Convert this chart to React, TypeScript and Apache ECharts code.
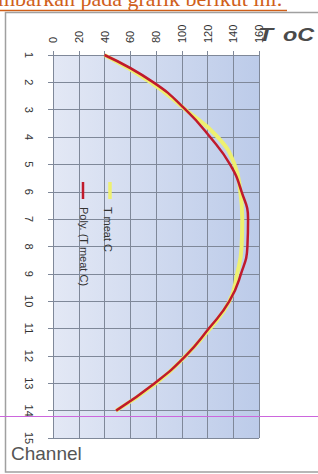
import React, { useEffect, useRef } from "react";
import * as echarts from "echarts";

const channels = [1, 2, 3, 4, 5, 6, 7, 8, 9, 10, 11, 12, 13, 14];
const tMeat = [40, 76, 103, 128, 141, 145.5, 147, 146.5, 143, 137, 122, 103, 80, 49];
const polyFit = [40, 78, 103, 122, 137.5, 146.5, 151.5, 151, 146, 137, 121, 103, 79, 49];
const seriesNames = ["T meat C", "Poly. (T meat C)"];
const headerText = "mbarkan pada grafik berikut ini:";
const xTitleMain = "T";
const xTitleUnit = "oC";
const yTitle = "Channel";

const GRID = "#7f8899";
const LABEL = "#333333";
const SANS = "Liberation Sans, Arial, sans-serif";

export default function App() {
  const ref = useRef<HTMLDivElement>(null);
  useEffect(() => {
    if (!ref.current) return;
    const chart = echarts.init(ref.current, null, { renderer: "svg" });
    const yellowData = channels.map((c, i) => [tMeat[i], c]);
    const redData = channels.map((c, i) => [polyFit[i], c]);
    chart.setOption({
      animation: false,
      backgroundColor: "#ffffff",
      grid: {
        left: 53,
        top: 55,
        right: 59,
        bottom: 36,
        show: true,
        borderWidth: 0,
        backgroundColor: new echarts.graphic.LinearGradient(0, 0, 1, 0, [
          { offset: 0, color: "#e3e8f5" },
          { offset: 1, color: "#bccbe9" },
        ]),
      },
      xAxis: {
        type: "value",
        position: "top",
        min: 0,
        max: 160,
        interval: 20,
        axisLine: { show: true, onZero: false, lineStyle: { color: GRID, width: 1 } },
        axisTick: { show: true, length: 4, lineStyle: { color: GRID } },
        axisLabel: { rotate: -90, margin: 12, fontSize: 11, color: LABEL, fontFamily: SANS },
        splitLine: { show: true, lineStyle: { color: GRID, width: 1 } },
      },
      yAxis: {
        type: "value",
        min: 1,
        max: 15,
        interval: 1,
        inverse: true,
        axisLine: { show: true, onZero: false, lineStyle: { color: GRID, width: 1 } },
        axisTick: { show: true, length: 5, lineStyle: { color: GRID } },
        axisLabel: { rotate: -90, margin: 19, fontSize: 11, color: LABEL, fontFamily: SANS },
        splitLine: { show: true, lineStyle: { color: GRID, width: 1 } },
      },
      series: [
        {
          name: seriesNames[0],
          type: "line",
          data: yellowData,
          smooth: true,
          showSymbol: false,
          lineStyle: { color: "#eef070", width: 4 },
          z: 2,
        },
        {
          name: seriesNames[1],
          type: "line",
          data: redData,
          smooth: true,
          showSymbol: false,
          lineStyle: { color: "#c01a2c", width: 2.5 },
          z: 3,
        },
      ],
      graphic: [
        {
          type: "text",
          x: -2,
          y: 9,
          style: {
            text: headerText,
            fontFamily: "Liberation Serif, Times New Roman, serif",
            fontSize: 22,
            fill: "#d0601a",
            textAlign: "left",
            textVerticalAlign: "bottom",
          },
          z: 10,
        },
        {
          type: "line",
          shape: { x1: 0, y1: 10.5, x2: 287, y2: 10.5 },
          style: { stroke: "#d0601a", lineWidth: 1.5 },
          z: 10,
        },
        {
          type: "polyline",
          shape: { points: [[318, 12.5], [5.5, 12.5], [5.5, 472], [318, 472]] },
          style: { stroke: "#a0a0a0", lineWidth: 1.5, fill: null },
          z: 10,
        },
        {
          type: "text",
          x: 258,
          y: 44,
          scaleX: 1.3,
          style: {
            text: xTitleMain,
            fontFamily: SANS,
            fontSize: 19,
            fontWeight: "bold",
            fontStyle: "italic",
            fill: "#4a4a4a",
            textAlign: "left",
            textVerticalAlign: "bottom",
          },
          z: 10,
        },
        {
          type: "text",
          x: 283,
          y: 44,
          scaleX: 1.3,
          style: {
            text: xTitleUnit,
            fontFamily: SANS,
            fontSize: 18,
            fontWeight: "bold",
            fontStyle: "italic",
            fill: "#4a4a4a",
            textAlign: "left",
            textVerticalAlign: "bottom",
          },
          z: 10,
        },
        {
          type: "text",
          x: 11,
          y: 453,
          style: {
            text: yTitle,
            fontFamily: SANS,
            fontSize: 19,
            fill: "#555555",
            textAlign: "left",
            textVerticalAlign: "middle",
          },
          z: 10,
        },
        {
          type: "line",
          shape: { x1: 110, y1: 182, x2: 110, y2: 199 },
          style: { stroke: "#eef070", lineWidth: 3.5 },
          z: 10,
        },
        {
          type: "text",
          x: 108,
          y: 207,
          rotation: -Math.PI / 2,
          style: {
            text: seriesNames[0],
            fontFamily: SANS,
            fontSize: 11,
            fill: LABEL,
            textAlign: "left",
            textVerticalAlign: "middle",
          },
          z: 10,
        },
        {
          type: "line",
          shape: { x1: 83, y1: 182, x2: 83, y2: 199 },
          style: { stroke: "#c01a2c", lineWidth: 2.5 },
          z: 10,
        },
        {
          type: "text",
          x: 84,
          y: 207,
          rotation: -Math.PI / 2,
          style: {
            text: seriesNames[1],
            fontFamily: SANS,
            fontSize: 11,
            fill: LABEL,
            textAlign: "left",
            textVerticalAlign: "middle",
          },
          z: 10,
        },
        {
          type: "line",
          shape: { x1: 0, y1: 416.5, x2: 318, y2: 416.5 },
          style: { stroke: "#cc66dd", lineWidth: 1 },
          z: 11,
        },
      ],
    });
    return () => chart.dispose();
  }, []);
  return (
    <div
      ref={ref}
      style={{ position: "fixed", left: 0, top: 0, width: 318, height: 474 }}
    />
  );
}
